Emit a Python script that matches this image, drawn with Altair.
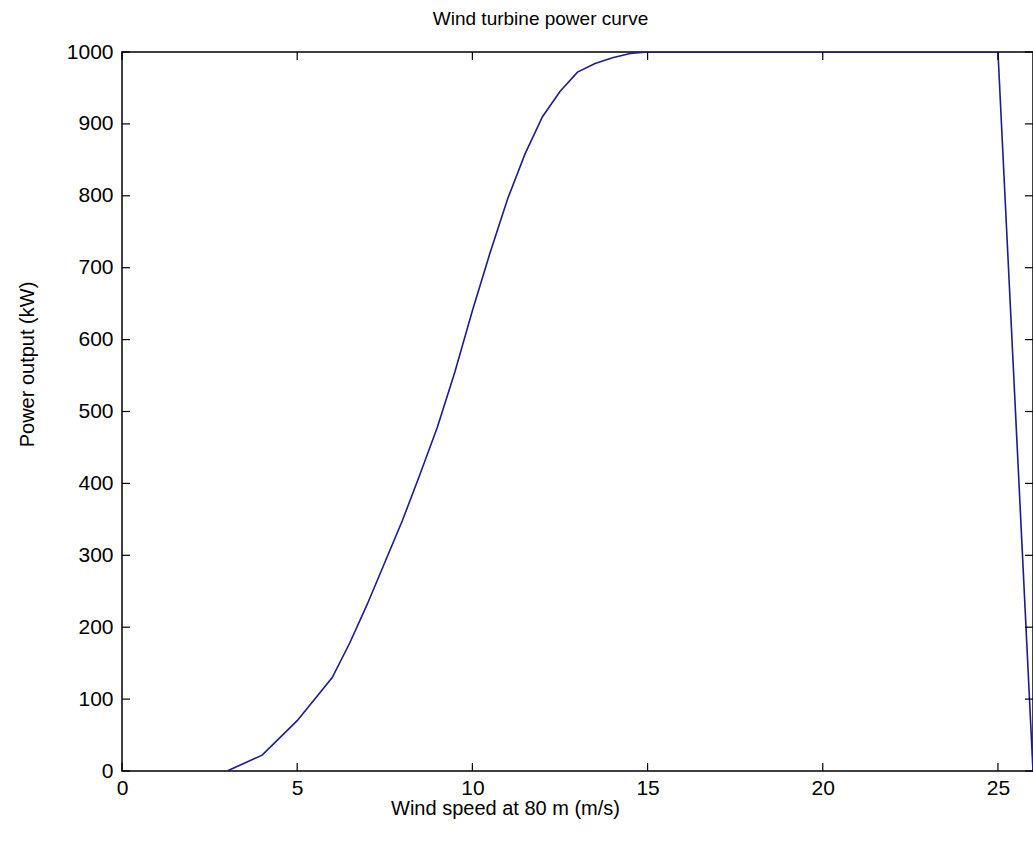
import altair as alt
import pandas as pd

# Data
wind_speed = [3, 4, 5, 6, 6.5, 7, 7.5, 8, 8.5, 9, 9.5, 10, 10.5, 11, 11.5, 12,
              12.5, 13, 13.5, 14, 14.5, 15, 20, 25, 26]
power_kw = [0, 22, 70, 130, 178, 232, 290, 348, 412, 478, 555, 640, 720, 795, 858, 910,
            945, 972, 984, 992, 998, 1000, 1000, 1000, 0]

x_ticks = [0, 5, 10, 15, 20, 25]
y_ticks = [0, 100, 200, 300, 400, 500, 600, 700, 800, 900, 1000]

W, H = 911, 719
FONT = "Liberation Sans"
TICK_LEN = 8

df = pd.DataFrame({"speed": wind_speed, "power": power_kw})
dx = pd.DataFrame({"t": x_ticks})
dy = pd.DataFrame({"t": y_ticks})

xscale = alt.Scale(domain=[0, 26], nice=False, zero=False)
yscale = alt.Scale(domain=[0, 1000], nice=False)

x_axis = alt.Axis(values=x_ticks, ticks=False, grid=False, domain=False, format="d",
                  labelFont=FONT, labelFontSize=21, labelColor="black",
                  labelPadding=6, labelFlush=False,
                  title="Wind speed at 80 m (m/s)", titleFont=FONT, titleFontSize=20,
                  titleFontWeight="normal", titleColor="black",
                  titleX=383, titleY=37, titleBaseline="middle", titleAnchor="start",
                  titleAlign="center")
y_axis = alt.Axis(values=y_ticks, ticks=False, grid=False, domain=False, format="d",
                  labelFont=FONT, labelFontSize=21, labelColor="black",
                  labelPadding=9, labelFlush=False,
                  title="Power output (kW)", titleFont=FONT, titleFontSize=20,
                  titleFontWeight="normal", titleColor="black",
                  titleX=-95, titleY=312, titleAngle=270, titleAlign="center",
                  titleBaseline="middle", titleAnchor="start")

line = alt.Chart(df).mark_line(color="#1c1c8c", strokeWidth=1.6, clip=True).encode(
    x=alt.X("speed:Q", scale=xscale, axis=x_axis),
    y=alt.Y("power:Q", scale=yscale, axis=y_axis),
)

tick_style = dict(color="black", strokeWidth=1.2)
xt_bottom = alt.Chart(dx).mark_rule(**tick_style).encode(
    x=alt.X("t:Q", scale=xscale), y=alt.value(H), y2=alt.value(H - TICK_LEN))
xt_top = alt.Chart(dx).mark_rule(**tick_style).encode(
    x=alt.X("t:Q", scale=xscale), y=alt.value(0), y2=alt.value(TICK_LEN))
yt_left = alt.Chart(dy).mark_rule(**tick_style).encode(
    y=alt.Y("t:Q", scale=yscale), x=alt.value(0), x2=alt.value(TICK_LEN))
yt_right = alt.Chart(dy).mark_rule(**tick_style).encode(
    y=alt.Y("t:Q", scale=yscale), x=alt.value(W), x2=alt.value(W - TICK_LEN))

chart = alt.layer(line, xt_bottom, xt_top, yt_left, yt_right).properties(
    width=W, height=H,
    title=alt.TitleParams("Wind turbine power curve", font=FONT, fontSize=19,
                          fontWeight="normal", color="black", anchor="middle",
                          dx=-37, offset=12),
    autosize=alt.AutoSizeParams(type="none"),
    padding={"left": 122, "top": 52, "right": 0, "bottom": 82},
).configure(background="white").configure_view(stroke="black", strokeWidth=1.5)

chart.save("out.html", embed_options={"renderer": "svg", "actions": False})
